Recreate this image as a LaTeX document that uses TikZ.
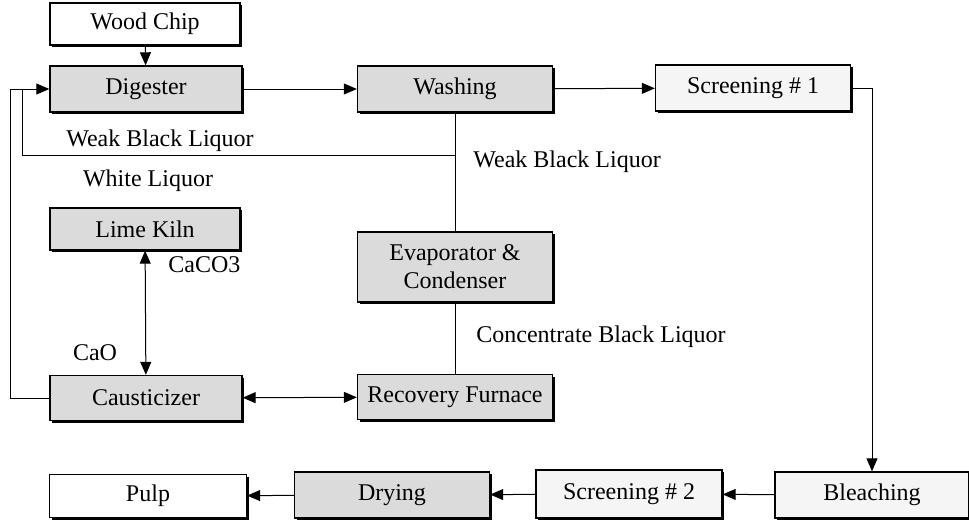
\documentclass[tikz,border=0pt]{standalone}
\usepackage{fontspec}
\setmainfont{Liberation Serif}
\usetikzlibrary{arrows.meta,shadows}
\begin{document}
\begin{tikzpicture}[x=0.5pt,y=-0.5pt,
  font=\fontsize{12}{14}\selectfont,
  box/.style={draw, line width=0.7pt, fill=white, align=center, inner sep=0pt,
    drop shadow={shadow xshift=1pt, shadow yshift=-1pt, fill=black, opacity=1}},
  gbox/.style={box, fill=gray!28},
  lbox/.style={box, fill=gray!8},
  conn/.style={line width=0.5pt},
  arr/.style={conn, -{Triangle[length=6.5pt,width=5.5pt]}},
  darr/.style={conn, {Triangle[length=6.5pt,width=5.5pt]}-{Triangle[length=6.5pt,width=5.5pt]}},
  lab/.style={inner sep=0pt}]
\useasboundingbox (0,0) rectangle (969,531);
\node[box,  minimum width=95pt,   minimum height=21pt] (wood) at (145,24) {Wood Chip};
\node[gbox, minimum width=96pt,   minimum height=23pt] (dig)  at (146,89) {Digester};
\node[gbox, minimum width=97.5pt, minimum height=23pt] (wash) at (455,89) {Washing};
\node[lbox, minimum width=97.5pt, minimum height=23pt] (scr1) at (753,88) {Screening \# 1};
\node[gbox, minimum width=95pt,   minimum height=21pt] (lime) at (145,229) {Lime Kiln};
\node[gbox, minimum width=97.5pt, minimum height=35pt] (evap) at (455,267) {Evaporator \&\\Condenser};
\node[gbox, minimum width=96pt,   minimum height=22.5pt] (caus) at (146,398) {Causticizer};
\node[gbox, minimum width=97.5pt, minimum height=22.5pt] (rec)  at (455,397) {Recovery Furnace};
\node[lbox, minimum width=97pt,   minimum height=23pt] (bleach) at (872,495) {Bleaching};
\node[lbox, minimum width=93pt,   minimum height=24pt] (scr2) at (629,494) {Screening \# 2};
\node[gbox, minimum width=97.5pt, minimum height=23pt] (dry)  at (392,495) {Drying};
\node[box,  minimum width=98.5pt, minimum height=21.5pt] (pulp) at (148,496) {Pulp};

\coordinate (j1) at (455,155);
\coordinate (l1) at (22,155);
\coordinate (l2) at (22,89);
\coordinate (lo) at (10,89);

\draw[arr] (wood) -- (dig);
\draw[arr] (dig) -- (wash);
\draw[arr] (wash) -- (scr1);
\draw[arr] (scr1.east) -| (bleach.north);
\draw[arr] (bleach) -- (scr2);
\draw[arr] (scr2) -- (dry);
\draw[arr] (dry) -- (pulp);
\draw[conn] (wash) -- (evap);
\draw[conn] (j1) -- (l1) -- (l2);
\draw[arr] (caus.west) -| (lo) -- (dig.west);
\draw[conn] (evap) -- (rec);
\draw[darr] (caus) -- (rec);
\draw[darr] (lime) -- (caus);

\node[lab] (t1) at (160,141) {Weak Black Liquor};
\node[lab, anchor=west] (t2) at (473,162) {Weak Black Liquor};
\node[lab] (t3) at (148,181) {White Liquor};
\node[lab, anchor=west] (t4) at (168,265) {CaCO3};
\node[lab] (t5) at (95,353) {CaO};
\node[lab, anchor=west] (t6) at (476,337) {Concentrate Black Liquor};
\end{tikzpicture}
\end{document}
